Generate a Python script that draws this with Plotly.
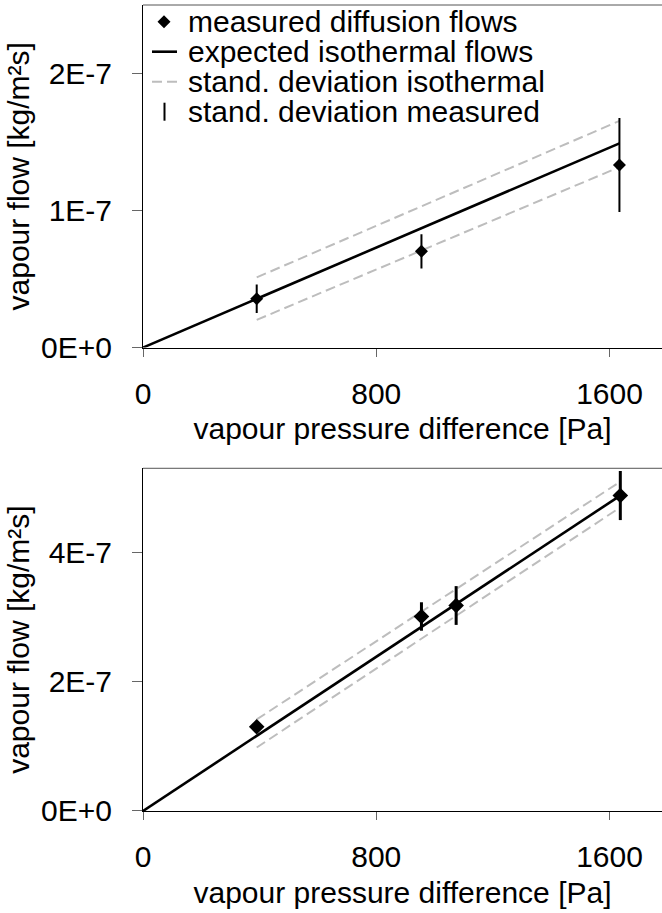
import plotly.graph_objects as go
from plotly.subplots import make_subplots

# ---------------- data ----------------
# top chart
top_meas_x = [390, 955, 1634]
top_meas_y = [3.56e-8, 7.02e-8, 1.332e-7]
top_meas_err = [1.04e-8, 1.25e-8, 3.43e-8]
top_exp_x = [0, 1634]
top_exp_y = [0, 1.49e-7]
top_sd_x = [390, 1634]
top_sd_upper = [5.12e-8, 1.654e-7]
top_sd_lower = [2.02e-8, 1.317e-7]

# bottom chart
bot_meas_x = [390, 955, 1074, 1637]
bot_meas_y = [1.302e-7, 3.008e-7, 3.178e-7, 4.879e-7]
bot_meas_err = [0.04e-7, 0.22e-7, 0.30e-7, 0.38e-7]
bot_exp_x = [0, 1634]
bot_exp_y = [0, 4.87e-7]
bot_sd_x = [390, 1634]
bot_sd_upper = [1.416e-7, 5.085e-7]
bot_sd_lower = [0.982e-7, 4.687e-7]

x_tickvals = [0, 800, 1600]
x_ticktext = ["0", "800", "1600"]
top_y_tickvals = [0, 1e-7, 2e-7]
top_y_ticktext = ["0E+0", "1E-7", "2E-7"]
bot_y_tickvals = [0, 2e-7, 4e-7]
bot_y_ticktext = ["0E+0", "2E-7", "4E-7"]

legend_labels = ["measured diffusion flows", "expected isothermal flows",
                 "stand. deviation isothermal", "stand. deviation measured"]

x_title = "vapour pressure difference [Pa]"
y_title = "vapour flow [kg/m²s]"

# ---------------- figure ----------------
W, H = 662, 913
ML, MR, MT, MB = 143, 0, 5, 102
FONT = "Liberation Sans, Arial, sans-serif"
FS = 30

fig = make_subplots(rows=2, cols=1, vertical_spacing=0.15)

def add_panel(row, ex, ey, sx, su, sl, mx, my, merr, ebw, msize):
    for ys in (su, sl):
        fig.add_trace(go.Scatter(x=sx, y=ys, mode="lines",
                                 line=dict(color="#bdbdbd", width=2, dash="10px,5px"),
                                 showlegend=False, hoverinfo="skip"), row=row, col=1)
    fig.add_trace(go.Scatter(x=ex, y=ey, mode="lines",
                             line=dict(color="black", width=2.6),
                             showlegend=False), row=row, col=1)
    fig.add_trace(go.Scatter(x=mx, y=my, mode="markers",
                             marker=dict(symbol="diamond", size=msize, color="black"),
                             error_y=dict(type="data", array=merr, visible=True,
                                          color="black", thickness=ebw, width=0),
                             showlegend=False), row=row, col=1)

add_panel(1, top_exp_x, top_exp_y, top_sd_x, top_sd_upper, top_sd_lower,
          top_meas_x, top_meas_y, top_meas_err, 2, 10)
add_panel(2, bot_exp_x, bot_exp_y, bot_sd_x, bot_sd_upper, bot_sd_lower,
          bot_meas_x, bot_meas_y, bot_meas_err, 3, 12)

axis_common = dict(showgrid=False, zeroline=False, showline=True, linecolor="black",
                   linewidth=1, ticks="outside", tickcolor="#666666", tickwidth=1,
                   tickfont=dict(family=FONT, size=FS, color="black"),
                   title_font=dict(family=FONT, size=FS, color="black"))

top_dom = [0.575, 1.0]
bot_dom = [0.0, 0.4252]

fig.update_xaxes(range=[0, 1780], tickvals=x_tickvals, ticktext=x_ticktext,
                 ticklen=8, ticklabelstandoff=11,
                 title_text=x_title, title_standoff=9, **axis_common)
fig.update_yaxes(ticklen=10, ticklabelstandoff=14, title_text=y_title,
                 title_standoff=2, **axis_common)
fig.update_yaxes(range=[0, 2.5e-7], tickvals=top_y_tickvals, ticktext=top_y_ticktext,
                 domain=top_dom, row=1, col=1)
fig.update_yaxes(range=[0, 5.3e-7], tickvals=bot_y_tickvals, ticktext=bot_y_ticktext,
                 domain=bot_dom, row=2, col=1)
fig.update_xaxes(automargin=False)
fig.update_yaxes(automargin=False)

# grey top frame lines
for yref in ("y domain", "y2 domain"):
    xr = "x domain" if yref == "y domain" else "x2 domain"
    fig.add_shape(type="line", xref=xr, yref=yref, x0=0, x1=1, y0=1, y1=1,
                  line=dict(color="#555555", width=1))

# ---------------- manual legend (layout, not data) ----------------
pw = W - ML - MR
ph = H - MT - MB

def px2x(px):
    return (px - ML) / pw

def py2y(py):
    return (H - MB - py) / ph

rows_py = [21.7, 51.7, 81.7, 111.7]
text_x = px2x(186)
for lab, py in zip(legend_labels, rows_py):
    fig.add_annotation(xref="paper", yref="paper", x=text_x, y=py2y(py),
                       text=lab, showarrow=False, xanchor="left", yanchor="middle",
                       font=dict(family=FONT, size=FS, color="black"))

# diamond symbol
cx, cy, r = 164, rows_py[0], 6.5
fig.add_shape(type="path", xref="paper", yref="paper",
              path=(f"M {px2x(cx)},{py2y(cy - r)} L {px2x(cx + r)},{py2y(cy)} "
                    f"L {px2x(cx)},{py2y(cy + r)} L {px2x(cx - r)},{py2y(cy)} Z"),
              fillcolor="black", line=dict(color="black", width=0))
# solid line symbol
fig.add_shape(type="line", xref="paper", yref="paper",
              x0=px2x(152), x1=px2x(177), y0=py2y(rows_py[1]), y1=py2y(rows_py[1]),
              line=dict(color="black", width=2.6))
# dashed line symbol
fig.add_shape(type="line", xref="paper", yref="paper",
              x0=px2x(152), x1=px2x(177), y0=py2y(rows_py[2]), y1=py2y(rows_py[2]),
              line=dict(color="#bdbdbd", width=2, dash="10px,5px"))
# error bar symbol
fig.add_shape(type="line", xref="paper", yref="paper",
              x0=px2x(164.5), x1=px2x(164.5), y0=py2y(rows_py[3] - 9),
              y1=py2y(rows_py[3] + 9), line=dict(color="black", width=2))

fig.update_layout(width=W, height=H, margin=dict(l=ML, r=MR, t=MT, b=MB),
                  plot_bgcolor="white", paper_bgcolor="white", showlegend=False,
                  font=dict(family=FONT, size=FS, color="black"))

fig.write_html("out.html", config={"displayModeBar": False},
               post_script="document.body.style.margin='0';document.body.style.overflow='hidden';")
